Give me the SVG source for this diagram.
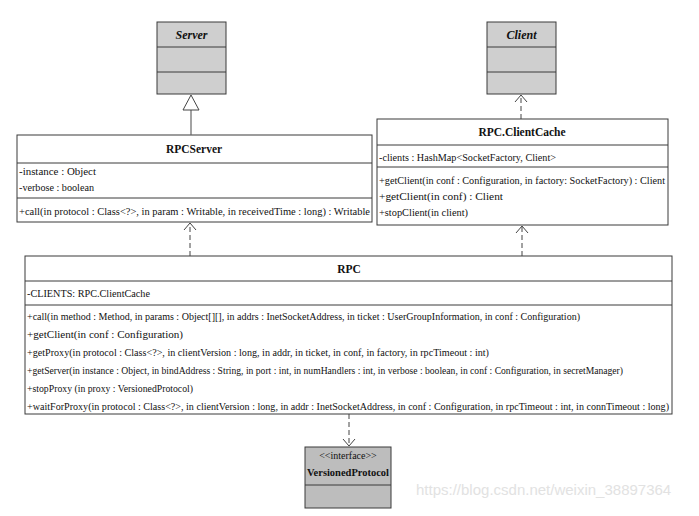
<svg xmlns="http://www.w3.org/2000/svg" width="699" height="516" viewBox="0 0 699 516">
<style>
.box{fill:#ffffff;stroke:#3a3a3a;stroke-width:1}
.gbox{fill:#cfcfcf;stroke:#3a3a3a;stroke-width:1}
.vbox{fill:#bdbdbd;stroke:#3a3a3a;stroke-width:1}
.div{stroke:#3a3a3a;stroke-width:1}
.t{font-family:"Liberation Serif","Times New Roman",serif;font-size:10.5px;fill:#111}
.title{font-family:"Liberation Serif","Times New Roman",serif;font-size:11.5px;font-weight:bold;fill:#111;text-anchor:middle}
.ititle{font-family:"Liberation Serif","Times New Roman",serif;font-size:12px;font-weight:bold;font-style:italic;fill:#111;text-anchor:middle}
.dash{stroke:#444;stroke-width:1;stroke-dasharray:5,3;fill:none}
.solid{stroke:#666;stroke-width:1.2;fill:none}
.head{stroke:#444;stroke-width:1;fill:none}
.wm{font-family:"Liberation Sans",Arial,sans-serif;font-size:15px;fill:#e2e2e2}
</style>
<rect width="699" height="516" fill="#ffffff"/>

<g id="Server">
<rect class="gbox" x="157" y="22" width="69" height="72"/>
<line class="div" x1="157" y1="47" x2="226" y2="47"/>
<line class="div" x1="157" y1="72" x2="226" y2="72"/>
<text class="ititle" x="191.5" y="39">Server</text>
</g>

<g id="Client">
<rect class="gbox" x="487" y="22" width="69" height="72"/>
<line class="div" x1="487" y1="47" x2="556" y2="47"/>
<line class="div" x1="487" y1="72" x2="556" y2="72"/>
<text class="ititle" x="521.5" y="39">Client</text>
</g>

<g id="RPCServer">
<rect class="box" x="17" y="135" width="355" height="87"/>
<line class="div" x1="17" y1="163" x2="372" y2="163"/>
<line class="div" x1="17" y1="198" x2="372" y2="198"/>
<text class="title" x="194" y="153">RPCServer</text>
<text class="t" x="19" y="175" textLength="77" lengthAdjust="spacingAndGlyphs">-instance : Object</text>
<text class="t" x="19" y="191" textLength="75" lengthAdjust="spacingAndGlyphs">-verbose : boolean</text>
<text class="t" x="19" y="215" textLength="351" lengthAdjust="spacingAndGlyphs">+call(in protocol : Class&lt;?&gt;, in param : Writable, in receivedTime : long) : Writable</text>
</g>

<g id="RPC.ClientCache">
<rect class="box" x="377" y="119" width="291" height="106"/>
<line class="div" x1="377" y1="145" x2="668" y2="145"/>
<line class="div" x1="377" y1="167" x2="668" y2="167"/>
<text class="title" x="522" y="136">RPC.ClientCache</text>
<text class="t" x="379" y="161" textLength="177" lengthAdjust="spacingAndGlyphs">-clients : HashMap&lt;SocketFactory, Client&gt;</text>
<text class="t" x="379" y="184" textLength="286" lengthAdjust="spacingAndGlyphs">+getClient(in conf : Configuration, in factory: SocketFactory) : Client</text>
<text class="t" x="379" y="200" textLength="124" lengthAdjust="spacingAndGlyphs">+getClient(in conf) : Client</text>
<text class="t" x="379" y="216" textLength="89" lengthAdjust="spacingAndGlyphs">+stopClient(in client)</text>
</g>

<g id="RPC">
<rect class="box" x="25" y="256" width="647" height="158"/>
<line class="div" x1="25" y1="281" x2="672" y2="281"/>
<line class="div" x1="25" y1="305" x2="672" y2="305"/>
<text class="title" x="349" y="273">RPC</text>
<text class="t" x="27" y="297" textLength="123" lengthAdjust="spacingAndGlyphs">-CLIENTS: RPC.ClientCache</text>
<text class="t" x="27" y="320" textLength="553" lengthAdjust="spacingAndGlyphs">+call(in method : Method, in params : Object[][], in addrs : InetSocketAddress, in ticket : UserGroupInformation, in conf : Configuration)</text>
<text class="t" x="27" y="338" textLength="156" lengthAdjust="spacingAndGlyphs">+getClient(in conf : Configuration)</text>
<text class="t" x="27" y="356" textLength="462" lengthAdjust="spacingAndGlyphs">+getProxy(in protocol : Class&lt;?&gt;, in clientVersion : long, in addr, in ticket, in conf, in factory, in rpcTimeout : int)</text>
<text class="t" x="27" y="374" textLength="596" lengthAdjust="spacingAndGlyphs">+getServer(in instance : Object, in bindAddress : String, in port : int, in numHandlers : int, in verbose : boolean, in conf : Configuration, in secretManager)</text>
<text class="t" x="27" y="392" textLength="166" lengthAdjust="spacingAndGlyphs">+stopProxy (in proxy : VersionedProtocol)</text>
<text class="t" x="27" y="410" textLength="642" lengthAdjust="spacingAndGlyphs">+waitForProxy(in protocol : Class&lt;?&gt;, in clientVersion : long, in addr : InetSocketAddress, in conf : Configuration, in rpcTimeout : int, in connTimeout : long)</text>
</g>

<g id="VersionedProtocol">
<rect class="vbox" x="305" y="447" width="86" height="61"/>
<line class="div" x1="305" y1="485" x2="391" y2="485"/>
<text class="t" x="348" y="459" text-anchor="middle" style="font-size:10px">&lt;&lt;interface&gt;&gt;</text>
<text class="title" x="348" y="476" textLength="82" lengthAdjust="spacingAndGlyphs" style="font-size:11px">VersionedProtocol</text>
</g>

<g id="connectors">
<line class="solid" x1="191" y1="110" x2="191" y2="135"/>
<polygon points="191,95 183,110 199,110" fill="#ffffff" stroke="#444" stroke-width="1"/>
<line class="dash" x1="521" y1="119" x2="521" y2="95"/>
<polyline class="head" points="515,102 521,95 527,102"/>
<line class="dash" x1="190" y1="256" x2="190" y2="223"/>
<polyline class="head" points="184,230 190,223 196,230"/>
<line class="dash" x1="522" y1="256" x2="522" y2="226"/>
<polyline class="head" points="516,233 522,226 528,233"/>
<line class="dash" x1="349" y1="414" x2="349" y2="446"/>
<polyline class="head" points="343,439 349,446 355,439"/>
</g>

<text class="wm" x="416" y="495">https://blog.csdn.net/weixin_38897364</text>
</svg>
